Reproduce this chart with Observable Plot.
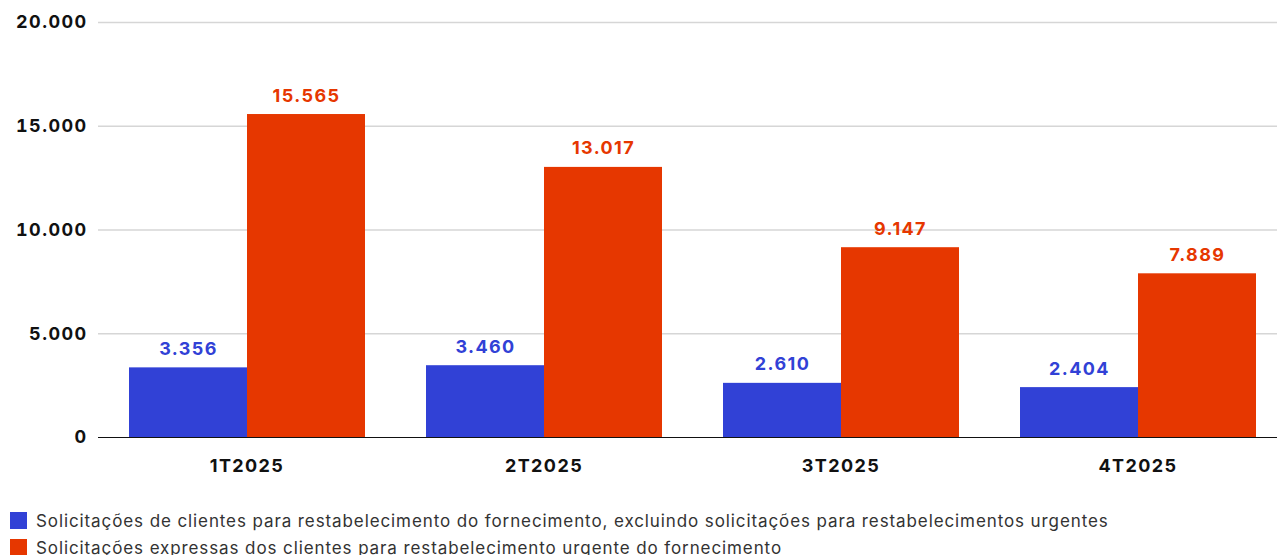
<!DOCTYPE html>
<html>
<head>
<meta charset="utf-8">
<script src="https://cdn.jsdelivr.net/npm/d3@7"></script>
<script src="https://cdn.jsdelivr.net/npm/@observablehq/plot@0.6"></script>
<style>
  html, body { margin: 0; padding: 0; background: #fff; overflow: hidden; }
  #chart svg { display: block; max-width: none !important; }
  #chart svg text { letter-spacing: 1.4px; }
  .legend { font-family: Inter, "Noto Sans", sans-serif; font-size: 17px; letter-spacing: 0.9px; color: #333; margin-left: 10px; margin-top: 7px; }
  .legend .row { display: flex; align-items: center; height: 27px; }
  .legend .sw { width: 17px; height: 17px; margin-right: 9px; flex: none; }
</style>
</head>
<body>
<div id="chart"></div>
<div class="legend" id="legend"></div>
<script>
const quarters = ["1T2025", "2T2025", "3T2025", "4T2025"];
const seriesNames = [
  "Solicitações de clientes para restabelecimento do fornecimento, excluindo solicitações para restabelecimentos urgentes",
  "Solicitações expressas dos clientes para restabelecimento urgente do fornecimento"
];
const regularValues = [3356, 3460, 2610, 2404];
const urgentValues = [15565, 13017, 9147, 7889];
const seriesColors = ["#3141d6", "#e63700"];
const yTicks = [0, 5000, 10000, 15000, 20000];

const data = [];
quarters.forEach((q, i) => {
  data.push({quarter: q, series: seriesNames[0], value: regularValues[i]});
  data.push({quarter: q, series: seriesNames[1], value: urgentValues[i]});
});

const fmt = d3.formatLocale({decimal: ",", thousands: ".", grouping: [3], currency: ["", ""]}).format(",d");

const chart = Plot.plot({
  width: 1287,
  height: 500,
  marginTop: 22,
  marginBottom: 63,
  marginLeft: 97,
  marginRight: 0,
  style: {fontFamily: "Inter, 'Noto Sans', sans-serif", fontSize: "18px", color: "#111", maxWidth: "none"},
  fx: {domain: quarters, padding: 0, label: null, axis: null},
  x: {domain: seriesNames, paddingInner: 0, paddingOuter: 0.25, axis: null},
  y: {domain: [0, 20000], axis: null},
  color: {domain: seriesNames, range: seriesColors},
  marks: [
    Plot.ruleY(yTicks.filter(d => d > 0), {stroke: "#d6d6d6", strokeWidth: 1.5}),
    Plot.axisY({ticks: yTicks, tickFormat: fmt, tickSize: 0, tickPadding: 11, fontWeight: "bold", fontSize: 18, fill: "#111", label: null}),
    Plot.barY(data, {fx: "quarter", x: "series", y: "value", fill: "series"}),
    Plot.ruleY([0], {stroke: "#111", strokeWidth: 1.2}),
    Plot.text(data, {fx: "quarter", x: "series", y: "value", text: d => fmt(d.value), fill: "series", lineAnchor: "bottom", dy: -13, fontWeight: "bold", fontSize: 18}),
    Plot.axisFx({anchor: "bottom", tickSize: 0, tickPadding: 22, fontWeight: "bold", fontSize: 18, fill: "#111", label: null})
  ]
});
document.getElementById("chart").appendChild(chart);

const legend = document.getElementById("legend");
seriesNames.forEach((name, i) => {
  const row = document.createElement("div");
  row.className = "row";
  const sw = document.createElement("span");
  sw.className = "sw";
  sw.style.background = seriesColors[i];
  const label = document.createElement("span");
  label.textContent = name;
  row.appendChild(sw);
  row.appendChild(label);
  legend.appendChild(row);
});
</script>
</body>
</html>
